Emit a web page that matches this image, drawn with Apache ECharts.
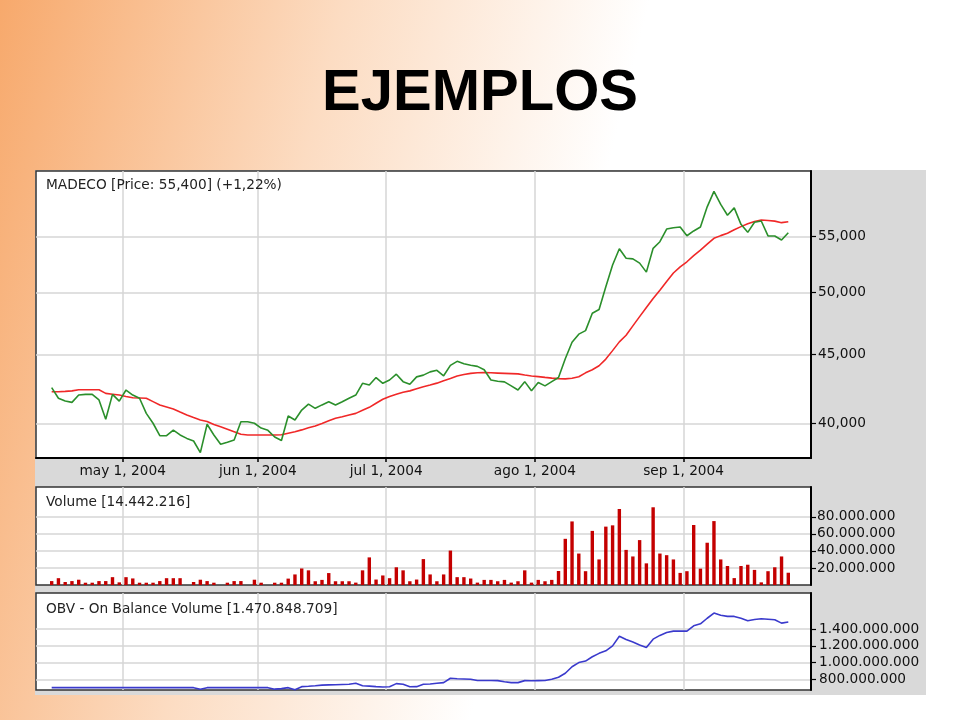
<!DOCTYPE html>
<html><head><meta charset="utf-8">
<script src="https://cdn.jsdelivr.net/npm/echarts@6/dist/echarts.min.js"></script>
<style>html,body{margin:0;padding:0;background:#fff;}#c{width:960px;height:720px;}</style>
</head><body><div id="c"></div>
<script>
// ---- data ----
const monthNames = ['abr', 'may', 'jun', 'jul', 'ago', 'sep'];
const tradingDaysPerMonth = [11, 20, 19, 22, 22, 16];
const priceTicks = [40000, 45000, 50000, 55000];
const volumeTicks = [20000000, 40000000, 60000000, 80000000];
const obvTicks = [800000000, 1000000000, 1200000000, 1400000000];

const price = [42530,41770,41570,41480,42000,42050,42050,41650,40300,42050,
  41570,42360,42000,41770,40710,40030,39190,39190,39570,39240,
  39010,38840,38080,39960,39240,38620,38750,38900,40130,40130,
  40030,39700,39550,39100,38870,40530,40250,40940,41360,41060,
  41300,41520,41290,41520,41770,42000,42850,42720,43270,42850,
  43090,43520,42970,42780,43320,43450,43690,43810,43400,44180,
  44480,44300,44180,44100,43850,43090,43000,42950,42660,42360,
  42970,42310,42900,42660,42970,43270,44680,45950,46590,46870,
  48280,48580,50500,52410,53880,53020,52960,52580,51780,53920,
  54530,55720,55850,55910,55090,55540,55910,57870,59410,58110,
  57050,57770,56170,55410,56370,56490,55070,55070,54690,55370];

const movingAvg = [42240,42240,42260,42300,42380,42380,42380,42380,42120,42060,
  42000,41900,41810,41790,41770,41530,41290,41150,41010,40800,
  40600,40420,40250,40150,39950,39800,39630,39460,39290,39240,
  39240,39240,39240,39240,39250,39350,39450,39580,39720,39850,
  40020,40200,40370,40480,40600,40710,40920,41130,41420,41700,
  41900,42050,42200,42300,42450,42600,42720,42860,43030,43200,
  43380,43500,43580,43630,43640,43620,43600,43580,43560,43540,
  43460,43390,43340,43280,43230,43190,43170,43220,43330,43620,
  43850,44150,44650,45300,45980,46500,47250,48000,48750,49500,
  50200,50950,51700,52250,52700,53250,53750,54300,54850,55100,
  55320,55650,55950,56220,56450,56580,56540,56480,56330,56420];

// volume in millions of shares
const volumeM = [4.6,8.0,3.5,4.6,6.2,2.7,2.7,4.6,4.6,9.2,
  3.1,9.2,7.7,2.7,2.7,2.7,4.6,8.0,8.0,8.0,
  0,3.5,6.2,4.6,2.7,0,2.7,4.6,4.6,0,
  6.2,2.7,0,2.7,2.7,7.5,12.4,19.4,17.2,4.4,
  6.0,14.0,4.4,4.4,4.4,2.8,17.2,32.4,6.4,11.2,
  8.0,20.8,17.2,4.4,6.4,30.4,12.4,4.4,12.4,40.4,
  9.2,9.2,7.6,2.8,6.0,6.0,4.4,6.0,2.8,4.4,
  17.2,2.8,6.0,4.4,6.0,16.4,54.2,74.6,36.9,16.2,
  63.5,30.0,68.5,70.0,89.2,41.2,33.5,52.7,25.4,91.2,
  36.9,35.0,30.0,14.2,16.2,70.4,19.2,49.6,75.0,30.0,
  22.3,8.1,22.3,23.8,17.7,3.1,16.2,20.8,33.5,14.4];

// on balance volume in millions
const obvM = [700,700,700,700,700,700,700,700,700,700,
  700,700,700,700,700,700,700,700,700,700,
  700,700,682,700,700,700,700,700,700,700,
  700,700,700,682,688,700,675,712,716,722,
  730,733,735,738,740,752,722,718,712,708,
  710,748,740,710,712,740,744,752,760,812,
  806,804,800,785,785,785,784,770,760,760,
  784,782,784,786,800,824,872,950,1000,1018,
  1070,1110,1140,1200,1315,1275,1245,1210,1180,1280,
  1325,1360,1376,1376,1376,1440,1464,1530,1592,1565,
  1552,1552,1530,1500,1515,1524,1518,1512,1472,1485];

// ---- derived ----
const monthTickPos = [];
const monthTickLabel = {};
let start = 0;
tradingDaysPerMonth.forEach((n, m) => {
  if (m > 0) {
    const p = start - 0.5;
    monthTickPos.push(p);
    monthTickLabel[p] = monthNames[m] + ' 1, 2004';
  }
  start += n;
});
const toPairs = (arr, k) => arr.map((v, i) => [i, v * (k || 1)]);
const dots = v => Math.round(v).toString().replace(/\B(?=(\d{3})+(?!\d))/g, '.');
const commas = v => Math.round(v).toString().replace(/\B(?=(\d{3})+(?!\d))/g, ',');

const FONT = 'DejaVu Sans';
const FS = 13.7;
const gridLine = {show: true, lineStyle: {color: '#d6d6d6', width: 1.5}};
const xMin = -2.32, xMax = 112.36;

function xAxisFor(gi, withLabels) {
  return {
    type: 'value', gridIndex: gi, min: xMin, max: xMax,
    axisLine: {show: withLabels, onZero: false, lineStyle: {color: '#000', width: 2}},
    axisTick: {show: withLabels, inside: false, length: 4, customValues: monthTickPos, lineStyle: {color: '#000', width: 1.5}},
    axisLabel: {show: withLabels, customValues: monthTickPos, margin: 6,
      formatter: v => monthTickLabel[v] || '', color: '#111', fontSize: FS, fontFamily: FONT},
    splitLine: gridLine
  };
}

function yAxisFor(gi, type, min, max, ticks, fmt, margin) {
  return {
    type: type, gridIndex: gi, position: 'right', min: min, max: max,
    axisLine: {show: true, onZero: false, lineStyle: {color: '#000', width: 2}},
    axisTick: {show: true, inside: false, length: 5, customValues: ticks, lineStyle: {color: '#000', width: 1.2}},
    axisLabel: {customValues: ticks, margin: margin, formatter: fmt, color: '#111', fontSize: FS, fontFamily: FONT},
    splitLine: gridLine,
    minorTick: {show: false}, minorSplitLine: {show: false}
  };
}

const panelStyle = {show: true, backgroundColor: '#ffffff', borderColor: '#333', borderWidth: 1.5};

const chart = echarts.init(document.getElementById('c'), null, {renderer: 'canvas'});
chart.setOption({
  animation: false,
  graphic: [
    {type: 'rect', z: -20, shape: {x: 0, y: 0, width: 960, height: 720},
      style: {fill: {type: 'linear', x: 0, y: 0, x2: 0.75, y2: 0.25,
        colorStops: [{offset: 0, color: '#f7a96c'}, {offset: 0.45, color: '#fcdcc2'}, {offset: 0.85, color: '#ffffff'}, {offset: 1, color: '#ffffff'}]}}},
    {type: 'rect', z: -10, shape: {x: 35, y: 170, width: 891, height: 525}, style: {fill: '#d9d9d9'}}
  ],
  title: [
    {text: 'EJEMPLOS', left: 'center', top: 60, textStyle: {fontFamily: 'Liberation Sans', fontWeight: 'bold', fontSize: 58, color: '#000'}},
    {text: 'MADECO [Price: 55,400] (+1,22%)', left: 41, top: 173, textStyle: {fontFamily: FONT, fontWeight: 'normal', fontSize: FS, color: '#222'}},
    {text: 'Volume [14.442.216]', left: 41, top: 490, textStyle: {fontFamily: FONT, fontWeight: 'normal', fontSize: FS, color: '#222'}},
    {text: 'OBV - On Balance Volume [1.470.848.709]', left: 41, top: 597, textStyle: {fontFamily: FONT, fontWeight: 'normal', fontSize: FS, color: '#222'}}
  ],
  grid: [
    Object.assign({left: 36, top: 171, width: 775, height: 287}, panelStyle),
    Object.assign({left: 36, top: 487, width: 775, height: 98}, panelStyle),
    Object.assign({left: 36, top: 593, width: 775, height: 97}, panelStyle)
  ],
  xAxis: [xAxisFor(0, true), xAxisFor(1, false), xAxisFor(2, false)],
  yAxis: [
    yAxisFor(0, 'log', 37730, 61510, priceTicks, v => commas(v), 7),
    yAxisFor(1, 'value', 0, 115000000, volumeTicks, v => dots(v), 6),
    yAxisFor(2, 'value', 672000000, 1832000000, obvTicks, v => dots(v), 8)
  ],
  series: [
    {type: 'line', name: 'Price', xAxisIndex: 0, yAxisIndex: 0, data: toPairs(price), symbol: 'none',
      lineStyle: {color: '#2b8f2b', width: 1.6}, z: 3},
    {type: 'line', name: 'MA', xAxisIndex: 0, yAxisIndex: 0, data: toPairs(movingAvg), symbol: 'none',
      lineStyle: {color: '#f02828', width: 1.6}, z: 2},
    {type: 'bar', name: 'Volume', xAxisIndex: 1, yAxisIndex: 1, data: toPairs(volumeM, 1e6), barWidth: 3.4,
      itemStyle: {color: '#c40000'}},
    {type: 'line', name: 'OBV', xAxisIndex: 2, yAxisIndex: 2, data: toPairs(obvM, 1e6), symbol: 'none',
      lineStyle: {color: '#3a3acc', width: 1.6}}
  ]
});
</script></body></html>
